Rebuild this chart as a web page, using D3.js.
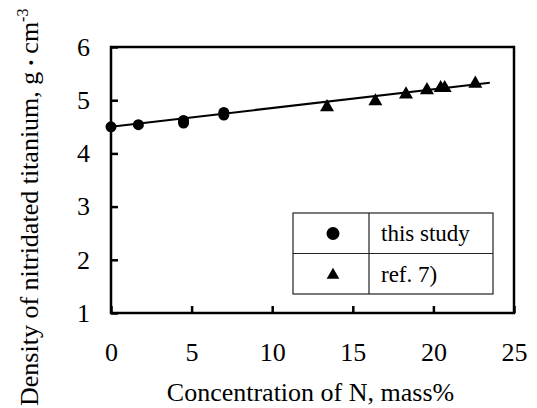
<!DOCTYPE html>
<html>
<head>
<meta charset="utf-8">
<script src="https://cdn.jsdelivr.net/npm/d3@7"></script>
<style>
  body { margin: 0; background: #fff; }
  text { font-family: "Liberation Serif", "Times New Roman", serif; fill: #000; }
</style>
</head>
<body>
<svg id="chart" width="537" height="408"></svg>
<script>
// this study
var studyN = [0, 1.7, 4.5, 4.5, 7.0, 7.0];
var studyDensity = [4.5, 4.54, 4.62, 4.57, 4.77, 4.72];
// ref. 7)
var refN = [13.4, 16.4, 18.3, 19.6, 20.45, 20.7, 22.6];
var refDensity = [4.87, 4.98, 5.11, 5.19, 5.23, 5.23, 5.31];
// fitted line
var fitN = [0, 23.5];
var fitDensity = [4.5, 5.33];

var xTicks = [0, 5, 10, 15, 20, 25];
var yTicks = [1, 2, 3, 4, 5, 6];
var legendLabels = ["this study", "ref. 7)"];

var serif = "'Liberation Serif', 'Times New Roman', serif";
var svg = d3.select("#chart");
var margin = { left: 111, right: 23, top: 47, bottom: 95 };
var width = 537 - margin.left - margin.right;
var height = 408 - margin.top - margin.bottom;

var g = svg.append("g").attr("transform", `translate(${margin.left},${margin.top})`);

var x = d3.scaleLinear().domain([0, 25]).range([0, width]);
var y = d3.scaleLinear().domain([1, 6]).range([height, 0]);

var xAxis = d3.axisBottom(x).tickValues(xTicks).tickFormat(d3.format("d")).tickSize(-7).tickPadding(30);
var yAxis = d3.axisLeft(y).tickValues(yTicks).tickFormat(d3.format("d")).tickSize(-7).tickPadding(21);

var gx = g.append("g").attr("transform", `translate(0,${height})`).call(xAxis);
var gy = g.append("g").call(yAxis);
[gx, gy].forEach(function (a) {
    a.attr("font-family", serif).attr("font-size", 26);
    a.select(".domain").remove();
    a.selectAll(".tick line").attr("stroke", "#000").attr("stroke-width", 2.5);
    a.selectAll(".tick text")
        .style("font-family", serif).style("font-size", "26px").attr("fill", "#000");
});

// frame
g.append("rect")
    .attr("width", width).attr("height", height)
    .attr("fill", "none").attr("stroke", "#000").attr("stroke-width", 2.5);

// fit line
g.append("path")
    .datum(d3.zip(fitN, fitDensity))
    .attr("d", d3.line().x(d => x(d[0])).y(d => y(d[1])))
    .attr("fill", "none").attr("stroke", "#000").attr("stroke-width", 2);

g.selectAll(".study").data(d3.zip(studyN, studyDensity)).join("circle")
    .attr("class", "study")
    .attr("cx", d => x(d[0])).attr("cy", d => y(d[1])).attr("r", 5.5)
    .attr("fill", "#000");

var tri = d3.symbol().type(d3.symbolTriangle).size(85);
g.selectAll(".ref").data(d3.zip(refN, refDensity)).join("path")
    .attr("class", "ref")
    .attr("transform", d => `translate(${x(d[0])},${y(d[1])})`)
    .attr("d", tri).attr("fill", "#000");

// legend table
var lg = svg.append("g").attr("transform", "translate(293,213)");
var lw = 200, lh = 81, col = 76;
lg.append("rect").attr("width", lw).attr("height", lh)
    .attr("fill", "#fff").attr("stroke", "#222").attr("stroke-width", 1.2);
lg.append("line").attr("x1", 0).attr("x2", lw).attr("y1", lh / 2).attr("y2", lh / 2)
    .attr("stroke", "#222").attr("stroke-width", 1.2);
lg.append("line").attr("x1", col).attr("x2", col).attr("y1", 0).attr("y2", lh)
    .attr("stroke", "#222").attr("stroke-width", 1.2);
lg.append("circle").attr("cx", 40).attr("cy", 20.5).attr("r", 6.5).attr("fill", "#000");
lg.append("path").attr("transform", "translate(40,62)")
    .attr("d", d3.symbol().type(d3.symbolTriangle).size(70)).attr("fill", "#000");
lg.selectAll(".lt").data(legendLabels).join("text")
    .attr("x", col + 12).attr("y", (d, i) => 28 + i * 40.5)
    .style("font-size", "23px").text(d => d);

// axis titles
svg.append("text")
    .attr("x", margin.left + width / 2 - 2).attr("y", 401)
    .attr("text-anchor", "middle").style("font-size", "26px")
    .text("Concentration of N, mass%");

var yt = svg.append("text")
    .attr("transform", "translate(38,406) rotate(-90)")
    .style("font-size", "26px");
yt.append("tspan").text("Density of nitridated titanium, g");
yt.append("tspan").style("font-family", "'Noto Sans CJK JP'").style("font-size", "18px").text("・");
yt.append("tspan").text("cm");
yt.append("tspan").attr("dy", "-10").style("font-size", "16px").text("-3");
</script>
</body>
</html>
